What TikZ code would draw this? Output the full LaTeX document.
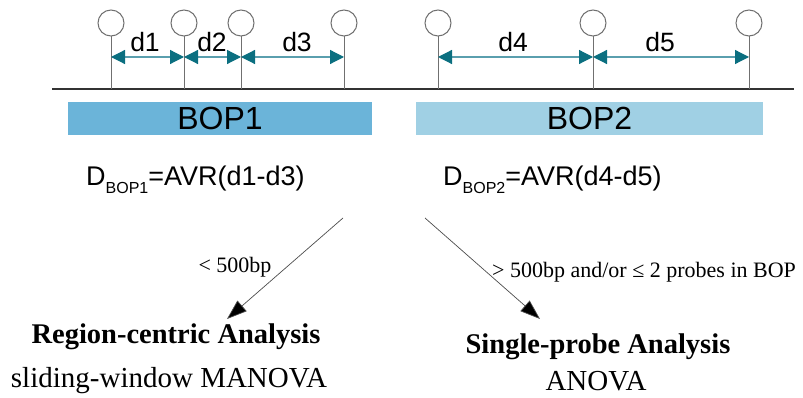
\documentclass[tikz,border=0pt]{standalone}
\usepackage{fontspec}
\setmainfont{Liberation Serif}
\newfontfamily\arial{Liberation Sans}
\usetikzlibrary{arrows.meta}
\definecolor{tealhead}{HTML}{0B6F80}
\definecolor{tealline}{HTML}{5A9FAE}
\definecolor{bopone}{HTML}{6BB4D9}
\definecolor{boptwo}{HTML}{A0D0E4}
\definecolor{probegray}{HTML}{707070}
\tikzset{
  probe/.style={circle,draw=probegray,fill=white,line width=1pt,minimum size=26pt,inner sep=0pt},
  stem/.style={draw=probegray,line width=1pt},
  dist/.style={draw=tealline,line width=1.2pt,{Triangle[length=14pt,width=14pt,fill=tealhead,color=tealhead]}-{Triangle[length=14pt,width=14pt,fill=tealhead,color=tealhead]}},
  dlabel/.style={font=\arial\fontsize{26.5}{28}\selectfont,inner sep=0pt},
  bopbar/.style={minimum height=33pt,inner sep=0pt,font=\arial\fontsize{32}{34}\selectfont},
  formula/.style={font=\arial\fontsize{27}{30}\selectfont,inner sep=0pt,anchor=base west},
  flow/.style={draw=black!70,line width=0.7pt,-{Triangle[length=20pt,width=14pt,fill=black]}},
  cond/.style={font=\fontsize{22}{24}\selectfont,inner sep=0pt},
  title/.style={font=\bfseries\fontsize{28.5}{30}\selectfont,inner sep=0pt},
  sub/.style={font=\fontsize{29}{31}\selectfont,inner sep=0pt},
}
\begin{document}
\begin{tikzpicture}[x=1pt,y=-1pt]
\useasboundingbox (0,0) rectangle (803,398);
% baseline
\coordinate (L0) at (52,89.5);
\coordinate (L1) at (794,89.5);
\draw[line width=2pt,black!80] (L0) -- (L1);
% probes
\foreach \n/\x in {p1/111,p2/184,p3/241,p4/344,p5/438,p6/593,p7/749}{
  \coordinate (\n b) at (\x,89);
  \node[probe] (\n) at (\x,23) {};
  \draw[stem] (\n.south) -- (\n b);
  \coordinate (\n a) at (\x,57);
}
% distances
\draw[dist] (p1a) -- (p2a);
\draw[dist] (p2a) -- (p3a);
\draw[dist] (p3a) -- (p4a);
\draw[dist] (p5a) -- (p6a);
\draw[dist] (p6a) -- (p7a);
\node[dlabel] (d1) at (145,42) {d1};
\node[dlabel] (d2) at (212,42) {d2};
\node[dlabel] (d3) at (297,42) {d3};
\node[dlabel] (d4) at (513,42) {d4};
\node[dlabel] (d5) at (660,42) {d5};
% BOP bars
\node[bopbar,fill=bopone,minimum width=304pt] (bop1) at (220,118.5) {BOP1};
\node[bopbar,fill=boptwo,minimum width=347pt] (bop2) at (589.5,118.5) {BOP2};
% formulas
\node[formula] (f1) at (86,186) {D\raisebox{-8pt}{\fontsize{16}{17}\selectfont BOP1}=AVR(d1-d3)};
\node[formula] (f2) at (443,186) {D\raisebox{-8pt}{\fontsize{16}{17}\selectfont BOP2}=AVR(d4-d5)};
% outcomes
\node[title] (rc) at (176,337) {Region-centric Analysis};
\node[sub] (rcs) at (169,381) {sliding-window MANOVA};
\node[title] (sp) at (598,347) {Single-probe Analysis};
\node[sub] (sps) at (596,381) {ANOVA};
% flow arrows
\coordinate (s1) at (343,218);
\coordinate (s2) at (425,218);
\coordinate (t1) at (227,319);
\coordinate (t2) at (540,319);
\draw[flow] (s1) -- (t1);
\draw[flow] (s2) -- (t2);
\node[cond] (c1) at (235,267) {< 500bp};
\node[cond,anchor=west] (c2) at (492,272) {> 500bp and/or ≤ 2 probes in BOP};
\end{tikzpicture}
\end{document}
